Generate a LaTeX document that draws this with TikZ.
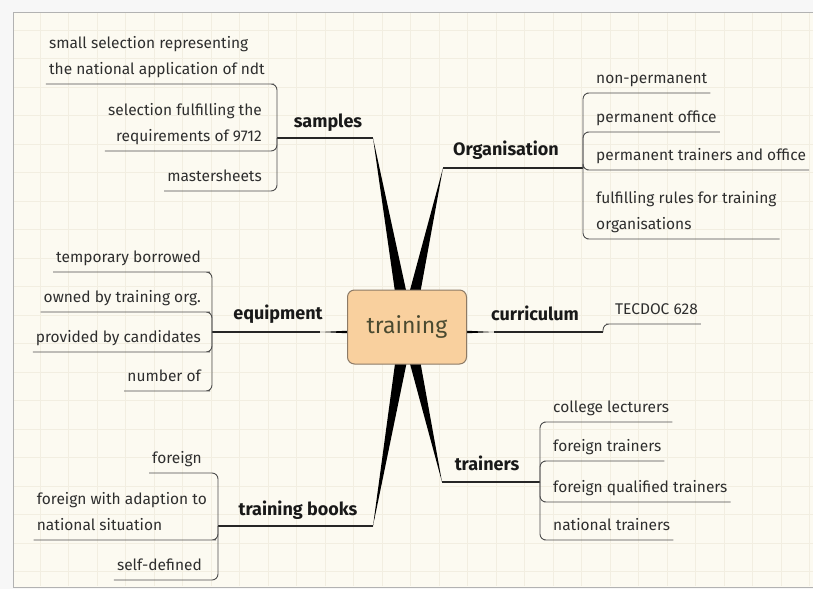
\documentclass[tikz,border=0pt]{standalone}
\usepackage{fontspec}
\setmainfont{Fira Sans}

\definecolor{paper}{HTML}{FCFAF1}
\definecolor{gridc}{HTML}{F2EEE1}
\definecolor{peach}{HTML}{F9D09E}
\definecolor{peachline}{HTML}{8C7A66}
\definecolor{ink}{HTML}{2E2E2E}
\definecolor{hubtext}{HTML}{4A4A30}

\begin{document}
\begin{tikzpicture}[x=1pt,y=-1pt,
	gridline/.style={draw=gridc, line width=0.8pt},
	frame/.style={draw=black!30, line width=1pt},
	branch/.style={fill=black},
	topicline/.style={draw=black!85, line width=1.1pt},
	sub/.style={draw=ink!85, line width=0.9pt, rounded corners=6pt},
	hub/.style={draw=peachline, fill=peach, line width=1pt, rounded corners=7pt,
		minimum width=119pt, minimum height=74pt, text=hubtext,
		font=\fontsize{23}{26}\selectfont},
	topic/.style={anchor=base, text=black!90, font=\fontsize{18}{20}\selectfont\bfseries},
	leafl/.style={anchor=south east, inner xsep=3pt, inner ysep=1pt, text depth=8pt,
		text=ink, align=right, font=\fontsize{15.5}{26}\selectfont},
	leafr/.style={leafl, anchor=south west, align=left}
	]
	\useasboundingbox (0,0) rectangle (813,589);
	\fill[white!97!black] (0,0) rectangle (813,589);
	\fill[paper] (13,12) rectangle (813,587);
	\foreach \gx in {0,...,27}
		\draw[gridline] ({40+\gx*28.5},13) -- ({40+\gx*28.5},586);
	\foreach \gy in {0,...,19}
		\draw[gridline] (14,{30+\gy*28.5}) -- (813,{30+\gy*28.5});
	\draw[frame] (813,12) -- (13,12) -- (13,587) -- (813,587);

	\coordinate (ctr) at (407,327);
	\coordinate (ctrh) at (407,332);
	\coordinate (samE) at (373,138); \coordinate (samJ) at (277,138);
	\coordinate (orgE) at (443,168); \coordinate (orgJ) at (583,168);
	\coordinate (equE) at (320,332); \coordinate (equJ) at (212,332);
	\coordinate (curE) at (494,332); \coordinate (curJ) at (603,332);
	\coordinate (traE) at (442,482); \coordinate (traJ) at (540,482);
	\coordinate (booE) at (373,526); \coordinate (booJ) at (218,526);

	% thick branches
	\foreach \e in {samE,orgE,traE,booE}
		\fill[branch] ([xshift=-7pt]ctr) -- (\e) -- ([xshift=7pt]ctr) -- cycle;
	\foreach \e in {equE,curE}
		\fill[branch] ([yshift=-4pt]ctrh) -- (\e) -- ([yshift=4pt]ctrh) -- cycle;

	\draw[topicline] (samE) -- (samJ);
	\draw[topicline] (orgE) -- (orgJ);
	\draw[topicline] (equE) -- (equJ);
	\draw[topicline] (curE) -- (curJ);
	\draw[topicline] (traE) -- (traJ);
	\draw[topicline] (booE) -- (booJ);

	\node[hub] (hub) at (ctr) {training};

	\node[topic] (samples) at (328,127) {samples};
	\node[topic] (organisation) at (506,155) {Organisation};
	\node[topic] (equipment) at (278,319) {equipment};
	\node[topic] (curriculum) at (535,320) {curriculum};
	\node[topic] (trainers) at (487,470) {trainers};
	\node[topic] (books) at (298,515) {training books};

	% samples
	\node[leafl, align=left] (s1) at (268,84) {small selection representing\\the national application of ndt};
	\node[leafl] (s2) at (265,151) {selection fulfilling the\\requirements of 9712};
	\node[leafl] (s3) at (265,191) {mastersheets};
	\foreach \l in {s1,s2,s3}
		\draw[sub] (samJ) |- (\l.south east) -- (\l.south west);

	% equipment
	\node[leafl] (e1) at (204,272) {temporary borrowed};
	\node[leafl] (e2) at (204,312) {owned by training org.};
	\node[leafl] (e3) at (204,352) {provided by candidates};
	\node[leafl] (e4) at (204,391) {number of};
	\foreach \l in {e1,e2,e3,e4}
		\draw[sub] (equJ) |- (\l.south east) -- (\l.south west);

	% training books
	\node[leafl] (b1) at (205,473) {foreign};
	\node[leafl, align=left] (b2) at (210,540) {foreign with adaption to\\national situation};
	\node[leafl] (b3) at (205,580) {self-defined};
	\foreach \l in {b1,b2,b3}
		\draw[sub] (booJ) |- (\l.south east) -- (\l.south west);

	% Organisation
	\node[leafr] (o1) at (593,93) {non-permanent};
	\node[leafr] (o2) at (593,132) {permanent office};
	\node[leafr] (o3) at (593,170) {permanent trainers and office};
	\node[leafr] (o4) at (593,239) {fulfilling rules for training\\organisations};
	\foreach \l in {o1,o2,o3,o4}
		\draw[sub] (orgJ) |- (\l.south west) -- (\l.south east);

	% curriculum
	\node[leafr] (c1) at (612,324) {TECDOC 628};
	\draw[sub] (curJ) |- (c1.south west) -- (c1.south east);

	% trainers
	\node[leafr] (t1) at (550,422) {college lecturers};
	\node[leafr] (t2) at (550,461) {foreign trainers};
	\node[leafr] (t3) at (550,502) {foreign qualified trainers};
	\node[leafr] (t4) at (550,540) {national trainers};
	\foreach \l in {t1,t2,t3,t4}
		\draw[sub] (traJ) |- (\l.south west) -- (\l.south east);
\end{tikzpicture}
\end{document}
